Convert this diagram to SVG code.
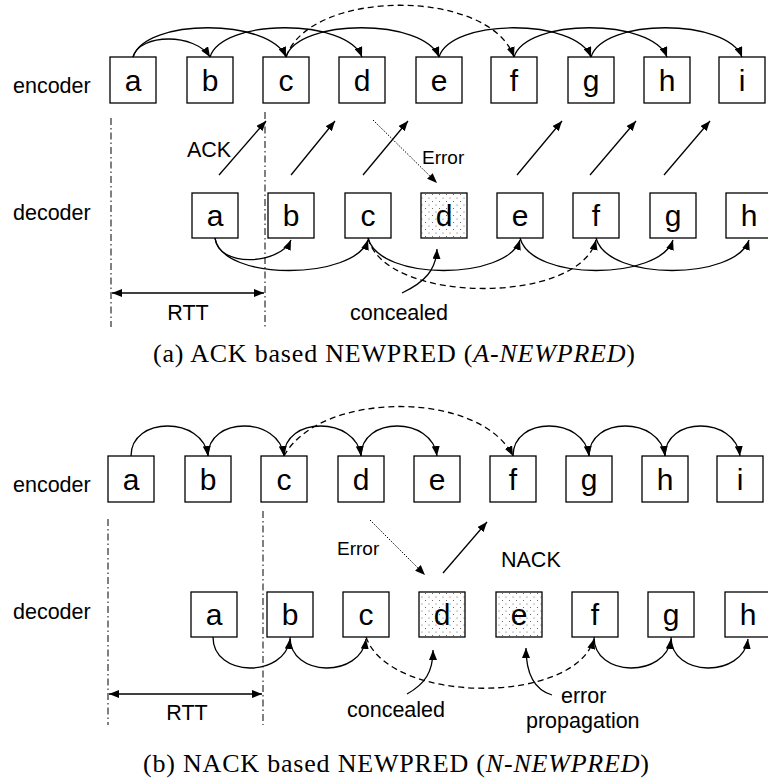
<svg xmlns="http://www.w3.org/2000/svg" width="768" height="783" viewBox="0 0 768 783">
<style>
.box{fill:#fff;stroke:#000;stroke-width:1.3}
.dot{fill:url(#dots);stroke:#000;stroke-width:1.3}
.bl{font-family:"Liberation Sans",Arial,sans-serif;font-size:30px;text-anchor:middle;fill:#000}
.lbl{font-family:"Liberation Sans",Arial,sans-serif;font-size:21.5px;fill:#000}
.sm{font-family:"Liberation Sans",Arial,sans-serif;font-size:19px;fill:#000}
.cap{font-family:"Liberation Serif","Times New Roman",serif;font-size:26px;fill:#000}
.arc{fill:none;stroke:#000;stroke-width:1.3;marker-end:url(#ah)}
.dash{fill:none;stroke:#000;stroke-width:1.3;stroke-dasharray:6 4;marker-end:url(#ah)}
.ln{fill:none;stroke:#000;stroke-width:1.3;marker-end:url(#ah)}
.dotln{fill:none;stroke:#000;stroke-width:1;stroke-dasharray:1.5 1.5;marker-end:url(#ah)}
.dd{fill:none;stroke:#000;stroke-width:1;stroke-dasharray:7 3 1.5 3}
.rtt{fill:none;stroke:#000;stroke-width:1.3;marker-end:url(#ah);marker-start:url(#ahs)}
</style>
<defs>
<pattern id="dots" width="7" height="7" patternUnits="userSpaceOnUse">
<rect width="7" height="7" fill="#fff"/>
<circle cx="2" cy="2" r="0.55" fill="#555"/>
<circle cx="5.5" cy="5.5" r="0.55" fill="#555"/>
</pattern>
<marker id="ah" markerUnits="userSpaceOnUse" markerWidth="11" markerHeight="8" refX="10" refY="4" orient="auto">
<path d="M0,0 L10,4 L0,8 z" fill="#000"/>
</marker>
<marker id="ahs" markerUnits="userSpaceOnUse" markerWidth="11" markerHeight="8" refX="10" refY="4" orient="auto-start-reverse">
<path d="M0,0 L10,4 L0,8 z" fill="#000"/>
</marker>
</defs>
<rect width="768" height="783" fill="#fff"/>

<!-- ===== (a) ===== -->
<text class="lbl" x="13" y="93">encoder</text>
<text class="lbl" x="13" y="220">decoder</text>

<g id="a-enc-a"><rect class="box" x="110" y="57" width="46" height="46"/><text class="bl" x="133" y="91">a</text></g>
<g id="a-enc-b"><rect class="box" x="187" y="57" width="46" height="46"/><text class="bl" x="210" y="91">b</text></g>
<g id="a-enc-c"><rect class="box" x="263" y="57" width="46" height="46"/><text class="bl" x="286" y="91">c</text></g>
<g id="a-enc-d"><rect class="box" x="339" y="57" width="46" height="46"/><text class="bl" x="362" y="91">d</text></g>
<g id="a-enc-e"><rect class="box" x="416" y="57" width="46" height="46"/><text class="bl" x="439" y="91">e</text></g>
<g id="a-enc-f"><rect class="box" x="491" y="57" width="46" height="46"/><text class="bl" x="514" y="91">f</text></g>
<g id="a-enc-g"><rect class="box" x="568" y="57" width="46" height="46"/><text class="bl" x="591" y="91">g</text></g>
<g id="a-enc-h"><rect class="box" x="644" y="57" width="46" height="46"/><text class="bl" x="667" y="91">h</text></g>
<g id="a-enc-i"><rect class="box" x="719" y="57" width="46" height="46"/><text class="bl" x="742" y="91">i</text></g>

<g id="a-dec-a"><rect class="box" x="192" y="193" width="46" height="45"/><text class="bl" x="215" y="226">a</text></g>
<g id="a-dec-b"><rect class="box" x="268" y="193" width="46" height="45"/><text class="bl" x="291" y="226">b</text></g>
<g id="a-dec-c"><rect class="box" x="345" y="193" width="46" height="45"/><text class="bl" x="368" y="226">c</text></g>
<g id="a-dec-d"><rect class="dot" x="421" y="193" width="46" height="45"/><text class="bl" x="444" y="226">d</text></g>
<g id="a-dec-e"><rect class="box" x="497" y="193" width="46" height="45"/><text class="bl" x="520" y="226">e</text></g>
<g id="a-dec-f"><rect class="box" x="573" y="193" width="46" height="45"/><text class="bl" x="596" y="226">f</text></g>
<g id="a-dec-g"><rect class="box" x="650" y="193" width="46" height="45"/><text class="bl" x="673" y="226">g</text></g>
<g id="a-dec-h"><rect class="box" x="726" y="193" width="46" height="45"/><text class="bl" x="749" y="226">h</text></g>

<g id="a-connectors">
<path class="arc" d="M133,57 C140,33 195,33 210,57"/>
<path class="arc" d="M133,57 C145,18 270,18 286,57"/>
<path class="arc" d="M210,57 C222,18 347,18 362,57"/>
<path class="arc" d="M286,57 C298,18 424,18 439,57"/>
<path class="dash" d="M286,57 C310,-12 490,-12 514,57"/>
<path class="arc" d="M439,57 C451,18 576,18 591,57"/>
<path class="arc" d="M514,57 C526,18 652,18 667,57"/>
<path class="arc" d="M591,57 C603,18 727,18 742,57"/>

<path class="ln" d="M219,175 L266,121"/>
<path class="ln" d="M291,175 L335,121"/>
<path class="ln" d="M363,175 L408,121"/>
<path class="ln" d="M517,175 L562,121"/>
<path class="ln" d="M590,175 L636,121"/>
<path class="ln" d="M664,175 L710,121"/>
<path class="dotln" d="M373,120 L437,183"/>

<path class="arc" d="M215,238 C218,268 280,265 291,240"/>
<path class="arc" d="M215,238 C222,282 355,280 368,240"/>
<path class="arc" d="M368,238 C380,282 507,280 520,240"/>
<path class="dash" d="M368,238 C385,305 580,305 596,240"/>
<path class="arc" d="M520,238 C532,282 660,280 673,240"/>
<path class="arc" d="M596,238 C608,282 736,280 749,240"/>

<path class="ln" d="M402,293 C425,282 436,270 437,249"/>

<path class="dd" d="M111,118 L111,327"/>
<path class="dd" d="M265,112 L265,327"/>
<path class="rtt" d="M112,293 L264,293"/>
</g>

<text class="lbl" x="187" y="157">ACK</text>
<text class="sm" x="422" y="164">Error</text>
<text class="lbl" x="188" y="320" text-anchor="middle">RTT</text>
<text class="lbl" x="350" y="320">concealed</text>
<text class="cap" x="153" y="362" textLength="482" lengthAdjust="spacing">(a) ACK based NEWPRED (<tspan font-style="italic">A-NEWPRED</tspan>)</text>

<!-- ===== (b) ===== -->
<text class="lbl" x="13" y="492">encoder</text>
<text class="lbl" x="13" y="619">decoder</text>

<g id="b-enc-a"><rect class="box" x="108" y="456" width="46" height="46"/><text class="bl" x="131" y="490">a</text></g>
<g id="b-enc-b"><rect class="box" x="185" y="456" width="46" height="46"/><text class="bl" x="208" y="490">b</text></g>
<g id="b-enc-c"><rect class="box" x="261" y="456" width="46" height="46"/><text class="bl" x="284" y="490">c</text></g>
<g id="b-enc-d"><rect class="box" x="338" y="456" width="46" height="46"/><text class="bl" x="361" y="490">d</text></g>
<g id="b-enc-e"><rect class="box" x="414" y="456" width="46" height="46"/><text class="bl" x="437" y="490">e</text></g>
<g id="b-enc-f"><rect class="box" x="490" y="456" width="46" height="46"/><text class="bl" x="513" y="490">f</text></g>
<g id="b-enc-g"><rect class="box" x="566" y="456" width="46" height="46"/><text class="bl" x="589" y="490">g</text></g>
<g id="b-enc-h"><rect class="box" x="642" y="456" width="46" height="46"/><text class="bl" x="665" y="490">h</text></g>
<g id="b-enc-i"><rect class="box" x="717" y="456" width="46" height="46"/><text class="bl" x="740" y="490">i</text></g>

<g id="b-dec-a"><rect class="box" x="191" y="592" width="46" height="45"/><text class="bl" x="214" y="625">a</text></g>
<g id="b-dec-b"><rect class="box" x="267" y="592" width="46" height="45"/><text class="bl" x="290" y="625">b</text></g>
<g id="b-dec-c"><rect class="box" x="343" y="592" width="46" height="45"/><text class="bl" x="366" y="625">c</text></g>
<g id="b-dec-d"><rect class="dot" x="419" y="592" width="46" height="45"/><text class="bl" x="442" y="625">d</text></g>
<g id="b-dec-e"><rect class="dot" x="496" y="592" width="46" height="45"/><text class="bl" x="519" y="625">e</text></g>
<g id="b-dec-f"><rect class="box" x="572" y="592" width="46" height="45"/><text class="bl" x="595" y="625">f</text></g>
<g id="b-dec-g"><rect class="box" x="648" y="592" width="46" height="45"/><text class="bl" x="671" y="625">g</text></g>
<g id="b-dec-h"><rect class="box" x="725" y="592" width="46" height="45"/><text class="bl" x="748" y="625">h</text></g>

<g id="b-connectors">
<path class="arc" d="M131,456 C131,416 203,416 208,456"/>
<path class="arc" d="M208,456 C208,416 279,416 284,456"/>
<path class="arc" d="M284,456 C284,416 356,416 361,456"/>
<path class="arc" d="M361,456 C361,416 432,416 437,456"/>
<path class="dash" d="M284,456 C320,390 480,390 513,456"/>
<path class="arc" d="M513,456 C513,416 584,416 589,456"/>
<path class="arc" d="M589,456 C589,416 660,416 665,456"/>
<path class="arc" d="M665,456 C665,416 735,416 740,456"/>

<path class="dotln" d="M370,520 L425,575"/>
<path class="ln" d="M443,573 L487,522"/>

<path class="arc" d="M213,637 C213,678 285,678 290,639"/>
<path class="arc" d="M290,637 C290,678 361,678 366,639"/>
<path class="dash" d="M366,637 C390,705 575,705 594,639"/>
<path class="arc" d="M594,637 C594,678 666,678 671,639"/>
<path class="arc" d="M671,637 C671,678 743,678 748,639"/>

<path class="ln" d="M407,694 C425,684 433,672 433,650"/>
<path class="ln" d="M552,695 C535,690 526,675 526,648"/>

<path class="dd" d="M108,519 L108,725"/>
<path class="dd" d="M263,511 L263,725"/>
<path class="rtt" d="M109,694 L262,694"/>
</g>

<text class="sm" x="337" y="555">Error</text>
<text class="lbl" x="501" y="567">NACK</text>
<text class="lbl" x="187" y="720" text-anchor="middle">RTT</text>
<text class="lbl" x="347" y="717">concealed</text>
<text class="lbl" x="561" y="703">error</text>
<text class="lbl" x="526" y="728">propagation</text>
<text class="cap" x="143" y="772" textLength="506" lengthAdjust="spacing">(b) NACK based NEWPRED (<tspan font-style="italic">N-NEWPRED</tspan>)</text>
</svg>
